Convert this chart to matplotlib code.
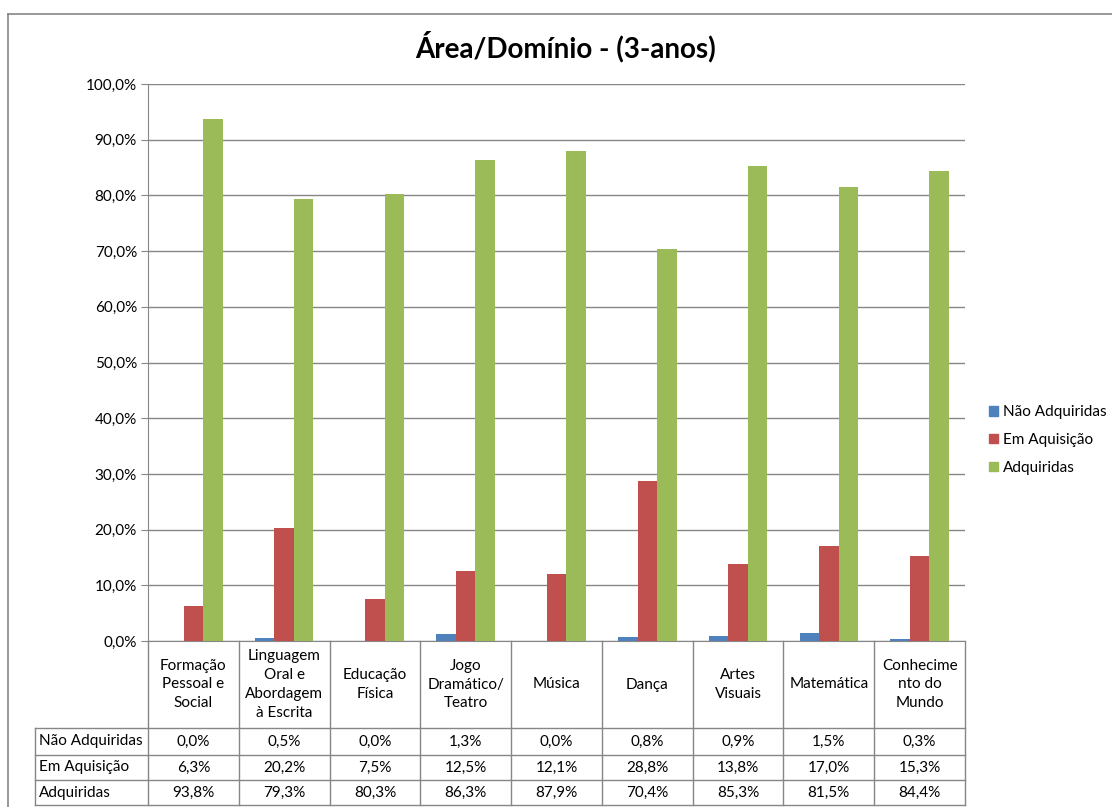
import numpy as np
import matplotlib.pyplot as plt
from matplotlib.ticker import FuncFormatter, MultipleLocator
from matplotlib.lines import Line2D
from matplotlib.patches import Patch

plt.rcParams['font.family'] = ['Lato', 'DejaVu Sans']

# Dados por área/domínio (percentagens)
areas = ["Formação\nPessoal e\nSocial", "Linguagem\nOral e\nAbordagem\nà Escrita",
         "Educação\nFísica", "Jogo\nDramático/\nTeatro", "Música", "Dança",
         "Artes\nVisuais", "Matemática", "Conhecime\nnto do\nMundo"]
series_names = ["Não Adquiridas", "Em Aquisição", "Adquiridas"]
nao_adquiridas = [0.0, 0.5, 0.0, 1.3, 0.0, 0.8, 0.9, 1.5, 0.3]
em_aquisicao = [6.3, 20.2, 7.5, 12.5, 12.1, 28.8, 13.8, 17.0, 15.3]
adquiridas = [93.8, 79.3, 80.3, 86.3, 87.9, 70.4, 85.3, 81.5, 84.4]
colors = ["#4F81BD", "#C0504D", "#9BBB59"]

W, H = 1112, 807
fig = plt.figure(figsize=(W / 100, H / 100), dpi=100)

# área do gráfico em pixels
x0, x1, y_top, y_bot = 148, 965, 84, 641
ax = fig.add_axes([x0 / W, 1 - y_bot / H, (x1 - x0) / W, (y_bot - y_top) / H])

grid_c = "#868686"
fs = 11
n = len(areas)
x = np.arange(n)
bw = 0.215
for i, (vals, c) in enumerate(zip([nao_adquiridas, em_aquisicao, adquiridas], colors)):
    ax.bar(x + (i - 1) * bw, vals, width=bw, color=c, label=series_names[i], zorder=3)

ax.set_xlim(-0.5, n - 0.5)
ax.set_ylim(0, 100)
ax.yaxis.set_major_locator(MultipleLocator(10))
ax.yaxis.set_major_formatter(FuncFormatter(lambda v, p: f"{v:.1f}%".replace(".", ",")))
ax.grid(axis="y", color=grid_c, linewidth=1, zorder=0)
ax.set_xticks([])
for s in ["top", "right"]:
    ax.spines[s].set_visible(False)
ax.spines["left"].set_color(grid_c)
ax.spines["bottom"].set_color(grid_c)
ax.tick_params(axis="y", colors=grid_c, length=5, labelcolor="black", labelsize=fs, pad=3)

# tabela de dados por baixo do gráfico
def fx(px):
    return (px - x0) / (x1 - x0)

def fy(py):
    return (y_bot - py) / (y_bot - y_top)

row_y = [728, 755, 780, 805]
tbl_left = 35
lk = dict(transform=ax.transAxes, color=grid_c, linewidth=1, clip_on=False)
cell_w = (x1 - x0) / n
for k in range(n + 1):
    xp = x0 + k * cell_w
    ax.add_line(Line2D([fx(xp), fx(xp)], [fy(y_bot), fy(row_y[-1])], **lk))
ax.add_line(Line2D([fx(tbl_left), fx(tbl_left)], [fy(row_y[0]), fy(row_y[-1])], **lk))
for yp in row_y:
    ax.add_line(Line2D([fx(tbl_left), fx(x1)], [fy(yp), fy(yp)], **lk))

for k, lab in enumerate(areas):
    cx = x0 + (k + 0.5) * cell_w
    ax.text(fx(cx), fy((y_bot + row_y[0]) / 2), lab, transform=ax.transAxes,
            ha="center", va="center", fontsize=fs, linespacing=1.45)

rows = [nao_adquiridas, em_aquisicao, adquiridas]
for r, (name, vals) in enumerate(zip(series_names, rows)):
    cy = (row_y[r] + row_y[r + 1]) / 2
    ax.text(fx(tbl_left + 4), fy(cy), name, transform=ax.transAxes,
            ha="left", va="center", fontsize=fs)
    for k, v in enumerate(vals):
        cx = x0 + (k + 0.5) * cell_w
        ax.text(fx(cx), fy(cy), f"{v:.1f}%".replace(".", ","), transform=ax.transAxes,
                ha="center", va="center", fontsize=fs)

# título
fig.text(566 / W, 1 - 47 / H, "Área/Domínio - (3-anos)", ha="center", va="center",
         fontsize=20, fontweight="bold")

# legenda
handles = [Patch(color=c, label=nm) for c, nm in zip(colors, series_names)]
fig.legend(handles=handles, loc="center left", bbox_to_anchor=(989 / W, 1 - 440 / H),
           frameon=False, fontsize=fs, handlelength=0.6, handleheight=0.6,
           handletextpad=0.3, labelspacing=0.9, borderpad=0, borderaxespad=0)

# moldura exterior
fig.add_artist(Line2D([8 / W, 1], [1 - 14 / H, 1 - 14 / H], transform=fig.transFigure,
                      color=grid_c, linewidth=1.2))
fig.add_artist(Line2D([8 / W, 8 / W], [0, 1 - 14 / H], transform=fig.transFigure,
                      color=grid_c, linewidth=1.2))

plt.savefig("out.png", dpi=100)
